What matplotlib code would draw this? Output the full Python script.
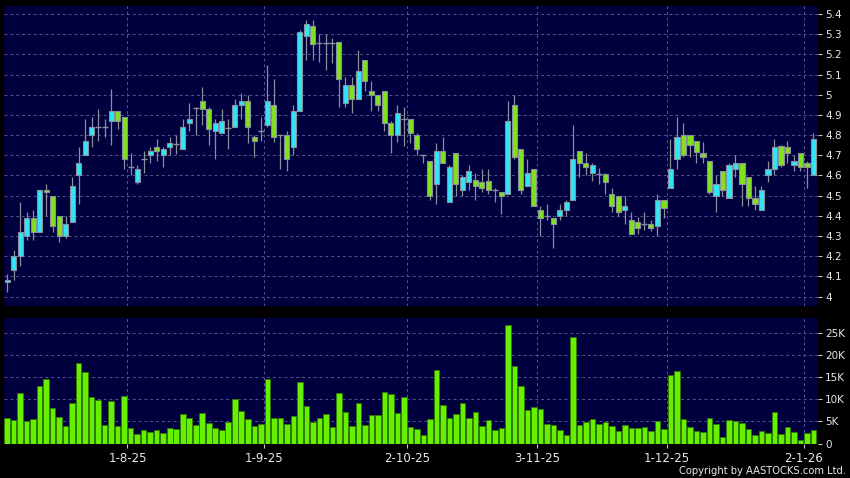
import numpy as np
import matplotlib
matplotlib.use("Agg")
import matplotlib.pyplot as plt
from matplotlib.ticker import FuncFormatter, FixedLocator

# daily OHLC, one entry per trading day
opens = [4.07, 4.13, 4.20, 4.30, 4.39, 4.32, 4.53, 4.50, 4.40, 4.30,
         4.37, 4.60, 4.70, 4.80, 4.84, 4.84, 4.87, 4.92, 4.89, 4.64,
         4.57, 4.68, 4.70, 4.74, 4.70, 4.74, 4.755, 4.73, 4.86, 4.935,
         4.97, 4.93, 4.82, 4.81, 4.835, 4.84, 4.95, 4.97, 4.79, 4.82,
         4.85, 4.95, 4.80, 4.80, 4.74, 4.92, 5.29, 5.34, 5.255, 5.255,
         5.255, 5.26, 4.96, 5.05, 4.98, 5.17, 5.02, 5.00, 5.02, 4.86,
         4.80, 4.88, 4.88, 4.80, 4.70, 4.67, 4.56, 4.72, 4.47, 4.71,
         4.53, 4.57, 4.58, 4.57, 4.575, 4.53, 4.52, 4.51, 4.95, 4.73,
         4.55, 4.63, 4.43, 4.40, 4.39, 4.40, 4.43, 4.48, 4.72, 4.66,
         4.61, 4.605, 4.605, 4.51, 4.50, 4.43, 4.38, 4.37, 4.36, 4.36,
         4.35, 4.48, 4.54, 4.68, 4.80, 4.80, 4.77, 4.71, 4.67, 4.50,
         4.62, 4.49, 4.63, 4.66, 4.59, 4.49, 4.43, 4.60, 4.63, 4.745,
         4.74, 4.65, 4.71, 4.66, 4.60]
highs = [4.11, 4.23, 4.47, 4.42, 4.43, 4.53, 4.56, 4.50, 4.40, 4.40,
         4.59, 4.74, 4.88, 4.89, 4.93, 4.88, 5.03, 4.92, 4.89, 4.71,
         4.65, 4.72, 4.74, 4.78, 4.74, 4.79, 4.80, 4.88, 4.96, 4.94,
         5.04, 4.94, 4.88, 4.93, 4.88, 4.98, 5.01, 5.00, 4.80, 4.89,
         5.15, 5.08, 4.80, 4.82, 4.95, 5.32, 5.37, 5.37, 5.30, 5.30,
         5.28, 5.26, 5.09, 5.09, 5.22, 5.17, 5.07, 5.00, 5.02, 4.87,
         4.95, 4.94, 4.88, 4.81, 4.70, 4.67, 4.76, 4.79, 4.65, 4.71,
         4.60, 4.65, 4.61, 4.63, 4.63, 4.54, 4.52, 4.97, 5.00, 4.73,
         4.68, 4.63, 4.45, 4.46, 4.39, 4.46, 4.48, 4.85, 4.72, 4.71,
         4.66, 4.635, 4.61, 4.54, 4.50, 4.50, 4.42, 4.395, 4.42, 4.38,
         4.51, 4.48, 4.78, 4.89, 4.86, 4.80, 4.77, 4.765, 4.67, 4.60,
         4.62, 4.66, 4.70, 4.66, 4.59, 4.55, 4.55, 4.67, 4.78, 4.75,
         4.77, 4.70, 4.71, 4.67, 4.81]
lows = [4.02, 4.08, 4.15, 4.28, 4.28, 4.32, 4.40, 4.32, 4.27, 4.29,
        4.37, 4.46, 4.70, 4.74, 4.77, 4.79, 4.75, 4.83, 4.63, 4.60,
        4.56, 4.61, 4.66, 4.67, 4.64, 4.70, 4.705, 4.73, 4.82, 4.80,
        4.85, 4.75, 4.68, 4.81, 4.73, 4.84, 4.88, 4.76, 4.69, 4.77,
        4.84, 4.765, 4.63, 4.62, 4.70, 4.92, 5.17, 5.17, 5.16, 5.125,
        5.155, 4.94, 4.94, 4.91, 4.98, 5.02, 4.92, 4.92, 4.82, 4.71,
        4.765, 4.745, 4.76, 4.70, 4.66, 4.48, 4.46, 4.66, 4.47, 4.50,
        4.50, 4.53, 4.48, 4.52, 4.51, 4.47, 4.41, 4.51, 4.68, 4.51,
        4.55, 4.45, 4.30, 4.38, 4.24, 4.38, 4.40, 4.48, 4.59, 4.60,
        4.575, 4.56, 4.51, 4.42, 4.40, 4.36, 4.31, 4.31, 4.33, 4.325,
        4.30, 4.39, 4.54, 4.63, 4.69, 4.69, 4.66, 4.66, 4.51, 4.42,
        4.50, 4.49, 4.59, 4.45, 4.45, 4.43, 4.43, 4.57, 4.60, 4.64,
        4.66, 4.62, 4.62, 4.54, 4.60]
closes = [4.08, 4.20, 4.32, 4.39, 4.32, 4.53, 4.52, 4.35, 4.30, 4.36,
          4.55, 4.66, 4.77, 4.84, 4.84, 4.84, 4.92, 4.87, 4.68, 4.64,
          4.63, 4.68, 4.72, 4.72, 4.73, 4.76, 4.755, 4.84, 4.88, 4.935,
          4.93, 4.83, 4.86, 4.87, 4.835, 4.95, 4.97, 4.84, 4.77, 4.82,
          4.97, 4.79, 4.80, 4.68, 4.92, 5.31, 5.35, 5.25, 5.255, 5.255,
          5.255, 5.08, 5.05, 4.98, 5.12, 5.07, 5.00, 4.95, 4.86, 4.80,
          4.91, 4.88, 4.81, 4.73, 4.70, 4.50, 4.72, 4.66, 4.64, 4.56,
          4.59, 4.62, 4.55, 4.54, 4.53, 4.53, 4.50, 4.87, 4.69, 4.53,
          4.61, 4.45, 4.39, 4.40, 4.36, 4.43, 4.47, 4.68, 4.66, 4.64,
          4.65, 4.605, 4.57, 4.45, 4.42, 4.45, 4.31, 4.34, 4.36, 4.34,
          4.48, 4.44, 4.63, 4.79, 4.70, 4.75, 4.715, 4.69, 4.52, 4.56,
          4.53, 4.65, 4.66, 4.56, 4.49, 4.46, 4.53, 4.63, 4.74, 4.65,
          4.71, 4.67, 4.64, 4.64, 4.78]
# volume in thousands
volumes = [5.8, 5.3, 11.4, 5.1, 5.5, 13.0, 14.7, 8.0, 6.1, 3.9,
           9.2, 18.3, 16.3, 10.6, 9.8, 4.2, 9.7, 4.0, 10.9, 3.6,
           2.1, 3.0, 2.5, 3.0, 2.4, 3.5, 3.3, 6.6, 5.8, 4.3,
           6.9, 4.7, 3.6, 3.1, 4.9, 10.1, 7.3, 5.5, 3.9, 4.5,
           14.7, 5.8, 5.8, 4.5, 6.2, 13.9, 8.6, 4.9, 5.8, 6.7,
           3.7, 11.4, 7.2, 4.0, 9.2, 4.2, 6.4, 6.4, 11.6, 11.2,
           7.0, 10.6, 3.7, 3.2, 2.0, 5.5, 16.7, 8.7, 5.8, 6.8,
           9.3, 5.9, 7.2, 4.0, 5.4, 3.0, 3.6, 26.9, 17.7, 13.0,
           7.7, 8.2, 7.9, 4.5, 4.2, 3.1, 2.0, 24.1, 4.2, 4.8,
           5.5, 4.4, 4.8, 4.0, 2.9, 4.3, 3.6, 3.6, 3.8, 2.9,
           5.0, 3.3, 15.5, 16.4, 5.5, 3.8, 2.9, 2.5, 5.7, 4.4,
           1.5, 5.4, 5.1, 4.6, 3.4, 2.0, 2.9, 2.3, 7.2, 2.2,
           3.7, 2.5, 0.8, 2.4, 3.0]

date_labels = ["1-8-25", "1-9-25", "2-10-25", "3-11-25", "1-12-25", "2-1-26"]
date_index = [18, 39, 61, 81, 101, 122]
price_ticks = [4.0, 4.1, 4.2, 4.3, 4.4, 4.5, 4.6, 4.7, 4.8, 4.9, 5.0, 5.1, 5.2, 5.3, 5.4]
vol_ticks = [0, 5, 10, 15, 20, 25]

NAVY = "#00003f"
CYAN = "#2ee6f8"
LIME = "#7fe21c"
VOLG = "#66f000"
EDGE = "#8a8f9c"
GRID = "#56568a"
TXT = "#e8e8e8"

o = np.array(opens)
h = np.array(highs)
l = np.array(lows)
c = np.array(closes)
x = np.arange(len(o))
up = c > o
dn = c < o
flat = c == o

fig = plt.figure(figsize=(8.5, 4.78), dpi=100, facecolor="black")
W, H = 850.0, 478.0
ax1 = fig.add_axes([4 / W, (H - 306) / H, 814 / W, 300 / H])
ax2 = fig.add_axes([4 / W, (H - 443.5) / H, 814 / W, 125.5 / H], sharex=ax1)

grid_pos = [i + 0.5 for i in date_index]

for ax in (ax1, ax2):
    ax.set_facecolor(NAVY)
    for s in ax.spines.values():
        s.set_visible(False)
    ax.yaxis.tick_right()
    ax.tick_params(axis="y", colors="#c8c8c8", length=3, width=0.8, pad=2,
                   labelsize=7.5, labelcolor=TXT)
    for gp in grid_pos:
        ax.axvline(gp, color=GRID, lw=0.7, ls=(0, (3, 3)), zorder=0)

# price panel
ax1.vlines(x, l, h, color=EDGE, lw=0.9, zorder=2)
ax1.bar(x[up], (c - o)[up], bottom=o[up], width=0.8, color=CYAN,
        edgecolor=EDGE, linewidth=0.8, zorder=3)
ax1.bar(x[dn], (o - c)[dn], bottom=c[dn], width=0.8, color=LIME,
        edgecolor=EDGE, linewidth=0.8, zorder=3)
ax1.hlines(o[flat], x[flat] - 0.45, x[flat] + 0.45, color=EDGE, lw=1.0, zorder=3)

ax1.set_ylim(3.953, 5.44)
ax1.set_yticks(price_ticks)
ax1.yaxis.set_major_formatter(FuncFormatter(lambda v, p: "%g" % round(v, 1)))
for v in price_ticks:
    ax1.axhline(v, color=GRID, lw=0.7, ls=(0, (3, 3)), zorder=0)
ax1.tick_params(axis="x", length=0, labelbottom=False)

# volume panel
ax2.bar(x, volumes, width=0.85, color=VOLG, edgecolor="#2f7a00", linewidth=0.6, zorder=3)
ax2.set_ylim(0, 28.5)
ax2.set_yticks(vol_ticks)
ax2.yaxis.set_major_formatter(FuncFormatter(lambda v, p: "0" if v == 0 else "%dK" % v))
for v in vol_ticks[1:]:
    ax2.axhline(v, color=GRID, lw=0.7, ls=(0, (3, 3)), zorder=0)

ax2.set_xlim(-0.49, 124.7)
ax2.xaxis.set_major_locator(FixedLocator(grid_pos))
ax2.set_xticklabels(date_labels)
ax2.tick_params(axis="x", colors="#c8c8c8", length=3, width=0.8, pad=3,
                labelsize=8.5, labelcolor=TXT)

fig.text(846 / W, (H - 471) / H, "Copyright by AASTOCKS.com Ltd.", color=TXT,
         fontsize=7.2, ha="right", va="center")

fig.savefig("out.png", dpi=100, facecolor="black")
